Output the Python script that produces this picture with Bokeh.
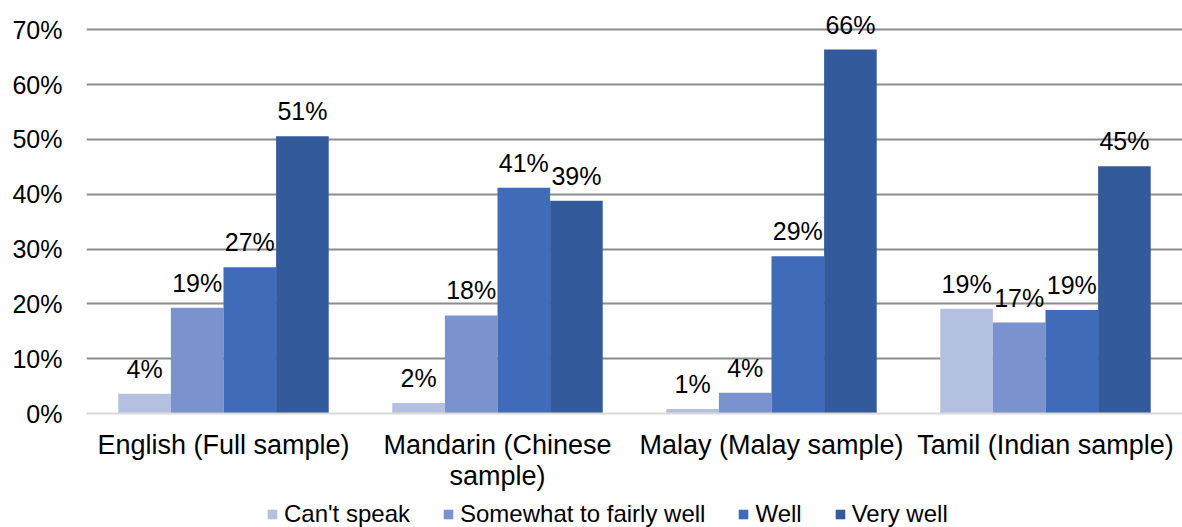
from bokeh.plotting import figure
from bokeh.layouts import column
from bokeh.models import Range1d, FixedTicker, Legend, LegendItem, ColumnDataSource, PrintfTickFormatter
from bokeh.embed import file_html
from bokeh.resources import INLINE
from bokeh.core.properties import value

# ---- data ----
categories = ["English (Full sample)", "Mandarin (Chinese\nsample)", "Malay (Malay sample)", "Tamil (Indian sample)"]
series = ["Can't speak", "Somewhat to fairly well", "Well", "Very well"]
cant_speak = [3.6, 1.9, 0.8, 19.1]
somewhat = [19.3, 17.9, 3.8, 16.6]
well = [26.7, 41.2, 28.7, 18.9]
very_well = [50.6, 38.8, 66.4, 45.1]
y_ticks = [0, 10, 20, 30, 40, 50, 60, 70]

colors = ["#B4C0E0", "#7A93CE", "#3F6BB8", "#335A9B"]
FONT = "Liberation Sans"

p = figure(frame_width=1096, frame_height=405, output_backend="svg", toolbar_location=None,
           x_range=Range1d(0.5, 4.5), y_range=Range1d(0, 73.9),
           min_border_left=86, min_border_right=0, min_border_top=8, min_border_bottom=0)
p.outline_line_color = None
p.background_fill_color = "white"
p.border_fill_color = "white"

bw = 0.192
offsets = [-1.5 * bw, -0.5 * bw, 0.5 * bw, 1.5 * bw]
all_vals = [cant_speak, somewhat, well, very_well]
sources = []
for name, vals, off, col in zip(series, all_vals, offsets, colors):
    xs = [i + 1 + off for i in range(len(categories))]
    src = ColumnDataSource(dict(x=xs, top=vals, lab=[f"{round(v)}%" for v in vals]))
    sources.append(src)
    p.vbar(x="x", top="top", bottom=0, width=bw, source=src,
           fill_color=col, line_color=None)
    p.text(x="x", y="top", text="lab", source=src, text_align="center",
           text_baseline="alphabetic", y_offset=-25,
           text_font=value(FONT), text_font_size="25px", text_color="#000000")

# y axis
p.yaxis.ticker = FixedTicker(ticks=y_ticks)
p.yaxis.formatter = PrintfTickFormatter(format="%d%%")
p.yaxis.axis_line_color = None
p.yaxis.major_tick_line_color = None
p.yaxis.minor_tick_line_color = None
p.yaxis.major_tick_out = 0
p.yaxis.major_label_standoff = 24
p.yaxis.major_label_text_font = FONT
p.yaxis.major_label_text_font_size = "25px"
p.yaxis.major_label_text_color = "#000000"

# x axis
p.xaxis.ticker = FixedTicker(ticks=[1, 2, 3, 4])
p.xaxis.major_label_overrides = {i + 1: c for i, c in enumerate(categories)}
p.xaxis.axis_line_color = "#D9D9D9"
p.xaxis.axis_line_width = 2
p.xaxis.major_tick_line_color = None
p.xaxis.minor_tick_line_color = None
p.xaxis.major_tick_out = 0
p.xaxis.major_label_standoff = 16
p.xaxis.major_label_text_font = FONT
p.xaxis.major_label_text_font_size = "27px"
p.xaxis.major_label_text_line_height = 1.05
p.xaxis.major_label_text_color = "#000000"

# grid
p.xgrid.grid_line_color = None
p.ygrid.ticker = FixedTicker(ticks=y_ticks[1:])
p.ygrid.grid_line_color = "#8C8C8C"
p.ygrid.grid_line_width = 2

# ---- legend strip below the chart (same series, bars kept out of view) ----
lf = figure(width=1182, height=34, output_backend="svg", toolbar_location=None,
            x_range=Range1d(-3, -2), y_range=Range1d(0, 1),
            min_border_left=0, min_border_right=0, min_border_top=0, min_border_bottom=0)
lf.axis.visible = False
lf.grid.visible = False
lf.outline_line_color = None
items = []
for name, src, col in zip(series, sources, colors):
    r = lf.vbar(x="x", top="top", bottom=0, width=bw, source=src,
                fill_color=col, line_color=None)
    items.append(LegendItem(label=name, renderers=[r]))
legend = Legend(items=items, orientation="horizontal", location=(180, 0),
                glyph_width=12, glyph_height=12, label_standoff=6, spacing=32,
                padding=2, margin=0, border_line_color=None,
                background_fill_alpha=0,
                label_text_font=FONT, label_text_font_size="24px",
                label_text_color="#000000")
lf.add_layout(legend, "center")

layout = column(p, lf, spacing=0)
open("out.html", "w").write(file_html(layout, INLINE))
